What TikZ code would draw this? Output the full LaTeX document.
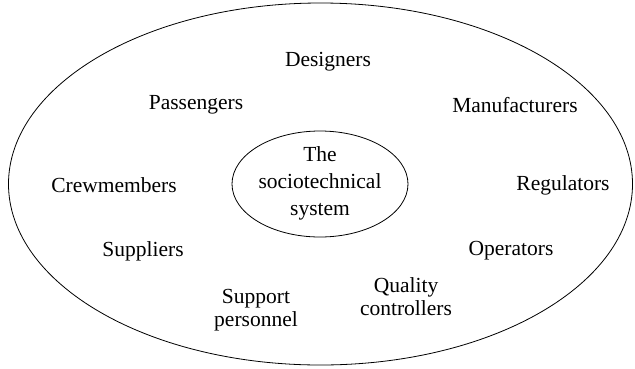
\documentclass[tikz,border=0pt]{standalone}
\usepackage{fontspec}
\setmainfont{Liberation Serif}
\begin{document}
\begin{tikzpicture}[x=1pt,y=-1pt,
  lbl/.style={font=\fontsize{21.5}{23}\selectfont, align=center, inner sep=0pt},
  ell/.style={line width=0.8pt}]
\useasboundingbox (0,0) rectangle (635,368);
\draw[ell] (320.5,184) ellipse [x radius=312, y radius=181];
\draw[ell] (320,184) ellipse [x radius=88, y radius=53];
\node[lbl, font=\fontsize{21.5}{27}\selectfont] (sys) at (320,183) {The\\sociotechnical\\system};
\node[lbl] (des) at (328,62) {Designers};
\node[lbl] (pas) at (196,105) {Passengers};
\node[lbl] (man) at (515,105) {Manufacturers};
\node[lbl] (crew) at (114,185) {Crewmembers};
\node[lbl] (reg) at (563,185) {Regulators};
\node[lbl] (sup) at (143,251) {Suppliers};
\node[lbl] (ope) at (511,251) {Operators};
\node[lbl] (spp) at (256,310) {Support\\personnel};
\node[lbl] (qua) at (406,297) {Quality\\controllers};
\end{tikzpicture}
\end{document}
